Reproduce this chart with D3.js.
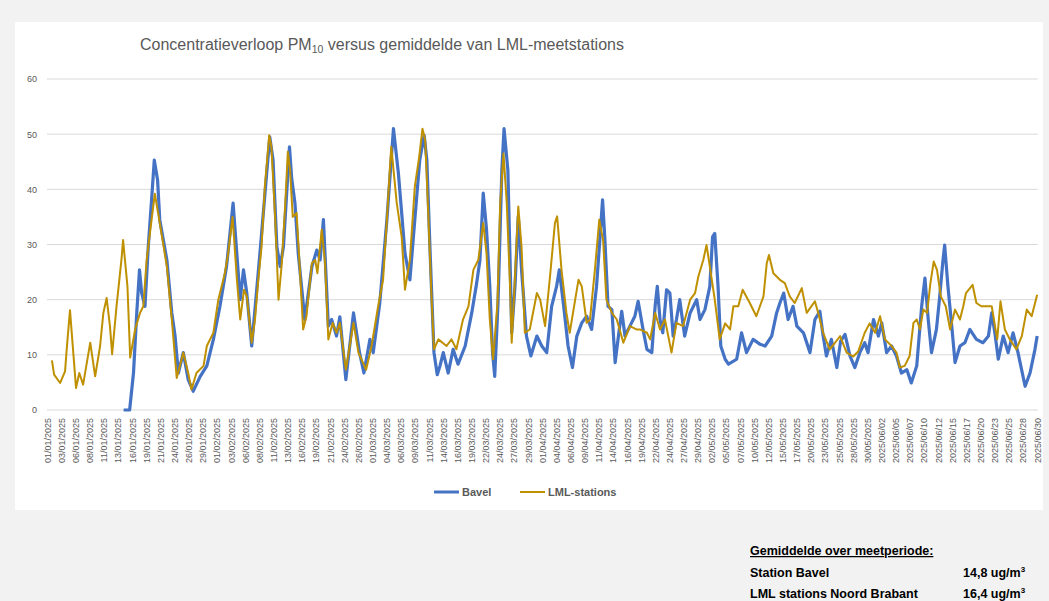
<!DOCTYPE html>
<html><head><meta charset="utf-8">
<script src="https://cdn.jsdelivr.net/npm/d3@7"></script>
<style>body{margin:0;background:#f2f2f2;}svg{display:block;}</style>
</head><body>
<svg id="c" width="1049" height="601"></svg>
<script>
// ---- data (day offset from 01/01/2025 00:00, value in ug/m3) ----
const bavelDay = [14.0,15.1,15.8,16.4,16.9,17.3,17.9,18.5,19.1,19.6,20.2,20.6,21.9,22.8,23.4,24.0,24.9,25.8,26.7,28.0,29.2,30.4,31.6,32.8,34.0,35.3,35.9,36.5,37.4,38.9,40.7,41.3,42.0,42.6,43.2,44.3,44.7,45.3,45.9,47.1,48.4,49.3,49.9,50.5,51.4,52.0,52.9,53.5,54.6,56.0,57.1,57.9,59.0,59.6,60.8,62.1,63.3,64.2,64.8,65.4,66.3,67.2,68.1,68.9,69.4,70.0,70.7,71.3,71.8,72.4,73.3,74.2,75.1,76.4,77.6,78.5,79.1,79.7,80.3,80.9,81.4,81.8,82.4,83.1,83.5,84.2,84.6,84.9,85.5,86.1,86.7,87.6,88.4,89.5,90.4,91.3,92.2,93.1,93.6,94.4,95.2,96.0,96.8,97.7,98.6,99.5,100.4,101.0,101.5,101.9,102.5,103.2,103.8,104.4,105.0,105.6,106.5,107.4,108.0,108.9,109.6,110.5,111.1,111.5,112.0,112.5,113.2,113.8,114.4,115.0,115.6,116.5,117.5,118.7,119.3,120.2,121.1,121.6,122.0,122.6,123.1,123.9,124.5,126.0,126.9,127.8,129.0,130.3,131.2,132.4,133.3,133.9,134.6,135.4,136.3,137.0,138.2,139.4,140.3,141.2,141.8,142.4,143.3,144.3,145.0,145.8,146.7,147.6,148.5,149.4,150.0,151.0,151.9,152.5,153.4,154.3,155.2,156.1,157.1,157.9,158.9,159.8,160.4,161.0,161.6,162.5,163.1,163.7,164.0,164.6,165.3,165.9,166.8,167.7,168.6,169.8,171.0,172.0,172.6,173.2,173.8,174.7,175.6,176.5,177.4,178.7,179.6,180.5,180.9];
const bavelValue = [0,0,6.7,17.6,25.4,21.2,18.8,29.6,38,45.3,41.7,34.5,27.2,17.6,13.4,6.7,10.4,5.5,3.4,6.1,8,12.8,18.8,26,37.5,20,25.4,21.2,11.6,28.4,49.5,45.3,29.6,26,29.6,47.7,42,37.5,28.4,16.4,26,29,27.2,34.5,15.2,16.4,13.4,16.9,5.5,17.6,10.4,6.7,12.8,10.4,19.4,34.5,51,42.9,35.7,28.4,23.6,34.5,45.3,49.8,45.3,28.4,10.4,6.4,8,10.4,6.7,11,8.3,11.6,17.6,23,27.2,39.3,32.7,22.4,10.4,6.1,19.4,43.5,51,43.5,27.2,14,22.4,35.1,25.4,13.4,9.8,13.4,11.6,10.4,18.8,22.4,25.4,18.8,11.6,7.7,13.4,15.8,17,14.6,22.4,30.8,38.1,31.4,18.8,18.2,8.6,13.4,17.9,13.4,15.2,17,19.7,14.6,11,10.4,18.8,22.4,16.4,14,21.8,21.2,13.4,16.4,20,13.4,17.6,20,16.4,18.2,22.4,31.4,32,22.4,11.6,9.2,8.3,9.2,14,10.4,12.8,11.9,11.6,13.4,17.6,19.4,21.2,16.4,18.8,15.2,14,10.4,16.4,17.9,13.4,9.8,12.8,7.7,12.5,13.7,9.8,7.7,10.4,12.2,10.4,16.4,13.4,15.8,10.4,11.6,9.8,6.7,7.3,4.9,8,18.8,23.9,16.4,10.4,14.6,20.6,27.2,29.9,22.4,15.2,8.6,11.6,12.2,14.6,12.8,12.2,13.4,17.6,13.8,9.2,13.4,10.4,14,10.4,4.3,6.7,11,13.4];

const lmlDay = [0.9,1.3,2.4,3.3,3.6,4.2,4.8,5.3,5.9,6.6,7.9,8.8,9.7,10.3,10.9,11.5,11.9,12.7,13.6,13.9,14.7,15.2,16.1,17.0,17.6,18.2,18.8,19.7,20.6,21.9,22.8,23.7,24.9,25.8,26.4,27.3,28.6,29.2,30.4,31.3,32.5,33.1,33.9,34.7,35.3,36.0,36.5,37.4,38.0,38.6,39.2,39.8,40.6,41.0,41.7,42.3,42.9,43.5,44.0,44.4,44.9,45.6,46.2,46.8,47.4,48.4,49.0,49.4,50.2,50.8,51.4,52.2,52.9,53.5,54.6,56.0,56.9,58.3,59.3,60.5,61.4,62.1,62.7,62.9,63.9,64.8,65.4,66.3,67.2,68.0,68.6,69.1,69.7,70.3,70.7,71.5,73.0,73.9,74.8,76.0,77.0,77.9,78.8,79.7,80.3,80.9,81.5,82.3,82.8,83.4,84.0,84.6,84.9,85.5,86.1,86.7,87.3,88.2,89.5,90.1,91.0,91.9,92.8,93.2,94.0,94.9,95.5,96.5,97.1,97.7,98.6,99.2,100.1,100.9,101.6,102.2,103.2,104.1,105.3,106.5,107.7,108.3,109.6,110.2,111.1,112.0,112.9,114.1,115.0,116.2,117.5,118.4,119.0,119.9,120.5,121.1,122.0,122.9,123.9,124.8,125.4,126.3,127.1,128.4,129.6,130.9,131.5,131.9,132.7,133.9,134.8,135.7,136.6,137.9,138.8,140.3,140.9,141.8,143.0,143.9,144.9,146.1,147.3,148.2,149.4,150.3,151.3,152.2,153.1,154.3,155.2,155.8,156.7,157.6,158.3,158.9,159.5,160.1,160.8,161.4,162.0,162.6,163.3,164.2,165.0,165.9,166.8,167.4,167.9,169.1,169.8,170.7,171.7,172.6,173.2,173.6,174.2,175.0,175.9,177.1,178.1,179.0,179.9,180.9];
const lmlValue = [9,6.4,4.9,7,11,18.1,10.4,4,6.7,4.6,12.2,6.1,11.6,17.6,20.3,15.2,10.1,18.8,27.2,30.8,22.4,9.5,14.6,17.6,18.8,27.2,32,39.2,33.9,26,16.4,5.8,10.4,6.7,3.7,6.7,8,11.6,14,20,24.8,28.4,35,23.6,16.4,21.8,20.6,12.2,16.4,23.6,29.6,40.5,49.8,47.7,34.5,20,26.6,36.9,46.8,43.5,35,35.7,25.4,14.6,17,26.6,27.2,24.8,32.7,26.6,12.8,15.8,14,15.8,7.3,15.8,10.4,7.3,11.6,18.8,23.6,34.5,44.7,47.7,37.5,31.4,21.8,27.2,40.5,45.9,51,48.9,34.5,19.4,11,12.8,11.6,12.8,11,16.4,18.8,25.4,27.2,33.9,28.4,16.4,9.2,19.4,37.5,46.5,37.5,22.4,12.2,24.2,36.9,29.6,14,14.6,21.2,20,15.2,24.2,33.9,35.1,25.4,17.6,14,20,23.6,22.4,15.8,16.4,25.4,34.5,30.8,20,17.6,16.4,12.2,15.2,14.6,14.6,14,12.8,17.6,14.6,16.4,10.4,15.8,15.2,20,21.2,24.2,27.2,29.9,26,20,12.8,15.7,14.6,18.8,18.8,21.8,19.4,17,20.6,26.6,28.1,24.8,23.6,23,20.6,19.4,22.1,17.6,19.7,17.6,14,11,12.1,13.4,10.4,9.7,10.6,14,15.7,14,17,12.8,11.6,10.4,7.7,8,9.8,15.8,16.4,14.6,18.2,17.6,23,26.9,25.4,20.6,18.8,14.6,18.2,16.4,18.8,21.2,22.7,19.4,18.8,18.8,18.8,15.2,12.8,19.7,14.6,12.8,11,13.4,18.2,17,20.9];

const tickLabels = ["01/01/2025","03/01/2025","06/01/2025","08/01/2025","11/01/2025","13/01/2025","16/01/2025","19/01/2025","21/01/2025","24/01/2025","26/01/2025","29/01/2025","01/02/2025","03/02/2025","06/02/2025","08/02/2025","11/02/2025","13/02/2025","16/02/2025","19/02/2025","21/02/2025","24/02/2025","26/02/2025","01/03/2025","04/03/2025","06/03/2025","09/03/2025","11/03/2025","14/03/2025","16/03/2025","19/03/2025","22/03/2025","24/03/2025","27/03/2025","29/03/2025","01/04/2025","04/04/2025","06/04/2025","09/04/2025","11/04/2025","14/04/2025","16/04/2025","19/04/2025","22/04/2025","24/04/2025","27/04/2025","29/04/2025","02/05/2025","05/05/2025","07/05/2025","10/05/2025","12/05/2025","15/05/2025","17/05/2025","20/05/2025","23/05/2025","25/05/2025","28/05/2025","30/05/2025","2025/06/02","2025/06/05","2025/06/07","2025/06/10","2025/06/12","2025/06/15","2025/06/17","2025/06/20","2025/06/23","2025/06/25","2025/06/28","2025/06/30"];
const tickStepHours = 62;
const totalHours = 4344;
const yTicks = [0,10,20,30,40,50,60];

const seriesNames = ["Bavel","LML-stations"];
const seriesColors = ["#4472C4","#BF9000"];
const avgLabels = ["Station Bavel","LML stations Noord Brabant"];
const avgValues = ["14,8","16,4"];

// ---- drawing ----
const svg = d3.select("#c");
const grey = "#595959";
const ft = "Liberation Sans, Arial, sans-serif";
svg.append("rect").attr("x",0).attr("y",0).attr("width",1049).attr("height",601).attr("fill","#f2f2f2");
svg.append("rect").attr("x",15).attr("y",22).attr("width",1028).attr("height",488).attr("fill","#ffffff");

const x = d3.scaleLinear().domain([0,totalHours]).range([47,1037.7]);
const y = d3.scaleLinear().domain([0,60]).range([410,79]);

// gridlines
svg.append("g").selectAll("line").data(yTicks).join("line")
  .attr("x1",47).attr("x2",1037.7).attr("y1",d=>y(d)).attr("y2",d=>y(d))
  .attr("stroke","#d9d9d9").attr("stroke-width",1);

// y axis labels
const yAxis = d3.axisLeft(y).tickValues(yTicks).tickSize(0).tickPadding(0);
const yg = svg.append("g").attr("transform","translate(37,0)").call(yAxis);
yg.select(".domain").remove();
yg.selectAll("text").attr("fill",grey).attr("font-family",ft).attr("font-size",9);

// x axis labels (category every 62 hours)
const xAxis = d3.axisBottom(x).tickValues(tickLabels.map((_,i)=>i*tickStepHours+0.5))
  .tickFormat((d,i)=>tickLabels[i]).tickSize(0).tickPadding(0);
const xg = svg.append("g").attr("transform","translate(0,418)").call(xAxis);
xg.select(".domain").remove();
xg.selectAll(".tick text").attr("fill",grey).attr("font-family",ft).attr("font-size",9)
  .attr("text-anchor","end").attr("dy","0.35em").attr("x",0).attr("y",0).attr("transform","rotate(-90)");

// lines
const line = d3.line().x(d=>x(d[0]*24)).y(d=>y(d[1]));
const bavel = bavelDay.map((d,i)=>[d,bavelValue[i]]);
const lml = lmlDay.map((d,i)=>[d,lmlValue[i]]);
svg.append("path").datum(bavel).attr("d",line).attr("fill","none").attr("stroke",seriesColors[0]).attr("stroke-width",3.2).attr("stroke-linejoin","round");
svg.append("path").datum(lml).attr("d",line).attr("fill","none").attr("stroke",seriesColors[1]).attr("stroke-width",2).attr("stroke-linejoin","round");

// title
const t = svg.append("text").attr("x",140).attr("y",50).attr("fill",grey)
  .attr("font-family",ft).attr("font-size",16);
t.append("tspan").text("Concentratieverloop PM");
t.append("tspan").attr("font-size",10.5).attr("dy",3).text("10");
t.append("tspan").attr("dy",-3).text(" versus gemiddelde van LML-meetstations");

// legend
const legX = [434,520];
seriesNames.forEach((n,i)=>{
  svg.append("line").attr("x1",legX[i]).attr("x2",legX[i]+25).attr("y1",492).attr("y2",492)
    .attr("stroke",seriesColors[i]).attr("stroke-width",i==0?3:2);
  svg.append("text").attr("x",legX[i]+28).attr("y",496).attr("fill",grey)
    .attr("font-family",ft).attr("font-size",11).attr("font-weight","bold").text(n);
});

// averages table
svg.append("text").attr("x",750).attr("y",555).attr("font-family",ft).attr("font-size",12.5).attr("font-weight","bold")
  .attr("text-decoration","underline").attr("fill","#000").text("Gemiddelde over meetperiode:");
avgLabels.forEach((l,i)=>{
  svg.append("text").attr("x",750).attr("y",577+i*21).attr("font-family",ft).attr("font-size",12.5).attr("font-weight","bold").attr("fill","#000").text(l);
  const v = svg.append("text").attr("x",963).attr("y",577+i*21).attr("font-family",ft).attr("font-size",12.5).attr("font-weight","bold").attr("fill","#000");
  v.append("tspan").text(avgValues[i]+" ug/m");
  v.append("tspan").attr("font-size",8).attr("dy",-5).text("3");
});
</script>
</body></html>
